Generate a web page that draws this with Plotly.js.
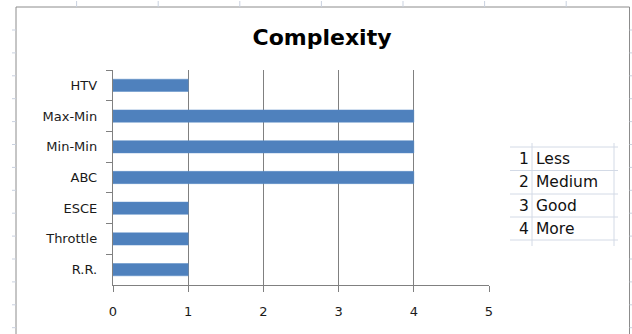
<!DOCTYPE html>
<html>
<head>
<meta charset="utf-8">
<script src="https://cdn.plot.ly/plotly-3.0.1.min.js"></script>
<style>
  html, body { margin: 0; padding: 0; background: #ffffff; }
  #chart { width: 632px; height: 334px; }
</style>
</head>
<body>
<div id="chart"></div>
<script>
// Complexity score of each scheduling algorithm (top to bottom)
const algorithms = ['HTV', 'Max-Min', 'Min-Min', 'ABC', 'ESCE', 'Throttle', 'R.R.'];
const complexity = [1, 4, 4, 4, 1, 1, 1];

// Rating scale shown in the side table
const scaleNumbers = ['1', '2', '3', '4'];
const scaleLabels = ['Less', 'Medium', 'Good', 'More'];

const W = 632, H = 334;
const M = { l: 113, r: 143, t: 70, b: 49 };
const plotW = W - M.l - M.r, plotH = H - M.t - M.b;
// pixel -> paper helpers for the sheet decoration
const px = x => (x - M.l) / plotW;
const py = y => (H - M.b - y) / plotH;

const shapes = [];
const line = (x0, y0, x1, y1, color, width) => shapes.push({
  type: 'line', xref: 'paper', yref: 'paper',
  x0: px(x0), y0: py(y0), x1: px(x1), y1: py(y1),
  line: { color: color, width: width || 1 }, layer: 'above'
});

// chart frame on the sheet
const frame = '#8c8c8c';
line(16, 7, 16, 340, frame);
line(16, 7, 629.5, 7, frame);
line(629.5, 7, 629.5, 340, frame);

// faint worksheet grid peeking out around the frame
const sheet = '#c9d1df';
for (let y = 30; y < H; y += 22.9) {
  line(12, y, 16, y, sheet);
  line(629.5, y, 632, y, sheet);
}
for (let x = 76.6; x < 630; x += 81.6) {
  line(x, 1, x, 7, sheet);
}

// cell borders of the rating table
const cell = '#d3dae6';
const rows = [147, 170.5, 194, 217, 240];
rows.forEach(y => line(510, y, 618, y, cell));
line(532, 143, 532, 246, cell);
line(614, 143, 614, 246, cell);

const annotations = [];
scaleNumbers.forEach((n, i) => {
  const yc = (rows[i] + rows[i + 1]) / 2;
  annotations.push({
    xref: 'paper', yref: 'paper', x: px(530.5), y: py(yc),
    xanchor: 'right', yanchor: 'middle', showarrow: false, text: n,
    font: { family: 'DejaVu Sans', size: 15.5, color: '#111111' }
  });
  annotations.push({
    xref: 'paper', yref: 'paper', x: px(533.5), y: py(yc),
    xanchor: 'left', yanchor: 'middle', showarrow: false, text: scaleLabels[i],
    font: { family: 'DejaVu Sans', size: 15.5, color: '#111111' }
  });
});

const axisGray = '#808080';

const data = [{
  type: 'bar',
  orientation: 'h',
  y: algorithms,
  x: complexity,
  marker: { color: '#4f81bd', line: { color: '#5b8cc6', width: 0.5 } },
  hoverinfo: 'skip'
}];

const layout = {
  width: W, height: H,
  margin: M,
  paper_bgcolor: 'rgba(0,0,0,0)',
  plot_bgcolor: 'rgba(0,0,0,0)',
  showlegend: false,
  bargap: 0.6,
  title: {
    text: 'Complexity',
    xref: 'container', yref: 'container',
    x: 322 / W, y: 1 - 37 / H, xanchor: 'center', yanchor: 'middle',
    font: { family: 'DejaVu Sans', size: 22, weight: 'bold', color: '#000000' }
  },
  xaxis: {
    range: [0, 5], dtick: 1, tick0: 0,
    showgrid: true, gridcolor: axisGray, gridwidth: 1.2,
    zeroline: false,
    showline: true, linecolor: axisGray, linewidth: 1.2,
    ticks: 'outside', ticklen: 6, tickcolor: axisGray,
    ticklabelstandoff: 8,
    tickfont: { family: 'DejaVu Sans', size: 13, color: '#1a1a1a' },
    fixedrange: true
  },
  yaxis: {
    type: 'category',
    autorange: 'reversed',
    showgrid: false, zeroline: false,
    showline: true, linecolor: axisGray, linewidth: 1.2,
    ticks: 'outside', tickson: 'boundaries', ticklen: 6, tickcolor: axisGray,
    ticklabelstandoff: 12,
    tickfont: { family: 'DejaVu Sans', size: 13, color: '#1a1a1a' },
    fixedrange: true
  },
  shapes: shapes,
  annotations: annotations
};

Plotly.newPlot('chart', data, layout, { displayModeBar: false, staticPlot: true });
</script>
</body>
</html>
